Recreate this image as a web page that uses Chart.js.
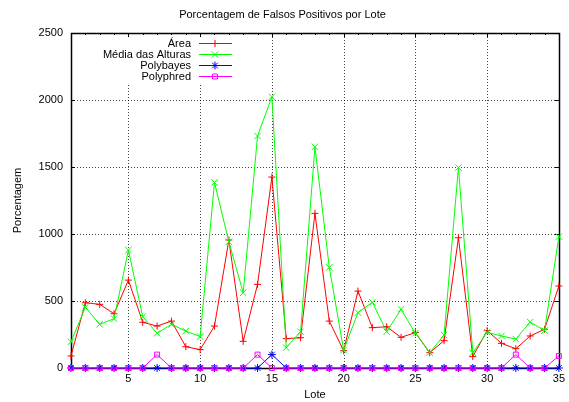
<!DOCTYPE html>
<html>
<head>
<meta charset="utf-8">
<script src="https://cdn.jsdelivr.net/npm/chart.js@4"></script>
<style>
  html, body { margin: 0; padding: 0; background: #fff; }
  #wrap { width: 569px; height: 402px; }
</style>
</head>
<body>
<div id="wrap"><canvas id="chart"></canvas></div>
<script>
const lotes = [1, 2, 3, 4, 5, 6, 7, 8, 9, 10, 11, 12, 13, 14, 15, 16, 17, 18, 19, 20,
    21, 22, 23, 24, 25, 26, 27, 28, 29, 30, 31, 32, 33, 34, 35];

const area = [90, 487, 475, 405, 656, 341, 313, 350, 159, 137, 313, 955, 199, 624, 1425,
    219, 226, 1154, 350, 129, 574, 301, 308, 229, 264, 114, 204, 972, 85, 279,
    184, 144, 239, 289, 612];

const mediaAlturas = [196, 453, 326, 368, 880, 383, 259, 326, 276, 234, 1385, 942, 562, 1731, 2024,
    152, 271, 1651, 751, 134, 413, 490, 271, 438, 259, 114, 246, 1495, 114, 266,
    239, 216, 343, 279, 980];

const polybayes = [0, 0, 0, 0, 0, 0, 0, 0, 0, 0, 0, 0, 0, 0, 100,
    0, 0, 0, 0, 0, 0, 0, 0, 0, 0, 0, 0, 0, 0, 0,
    0, 0, 0, 0, 0];

const polyphred = [0, 0, 0, 0, 0, 0, 100, 0, 0, 0, 0, 0, 0, 100, 0,
    0, 0, 0, 0, 0, 0, 0, 0, 0, 0, 0, 0, 0, 0, 0,
    0, 100, 0, 0, 90];

const xTicks = [5, 10, 15, 20, 25, 30, 35];
const yTicks = [0, 500, 1000, 1500, 2000, 2500];

const FONT = 'Liberation Sans, Arial, Helvetica, sans-serif';

const toPoints = (values) => lotes.map((l, i) => ({ x: l, y: values[i] }));

const series = (label, color, values, style, radius, order) => ({
    label: label,
    data: toPoints(values),
    borderColor: color,
    backgroundColor: color,
    borderWidth: 1,
    pointStyle: style,
    pointRadius: radius,
    pointHoverRadius: radius,
    pointBorderColor: color,
    pointBackgroundColor: style === 'rect' ? 'rgba(0,0,0,0)' : color,
    pointBorderWidth: 1,
    tension: 0,
    clip: false,
    order: order,
});

// dotted grid, frame, inward tics and the boxed key, drawn under the data lines
const gnuplotFrame = {
    id: 'gnuplotFrame',
    beforeDatasetsDraw(chart) {
        const ctx = chart.ctx;
        const a = chart.chartArea;
        const xs = chart.scales.x;
        const ys = chart.scales.y;

        ctx.save();

        // grid
        ctx.strokeStyle = 'rgba(0, 0, 0, 0.75)';
        ctx.lineWidth = 1;
        ctx.setLineDash([1, 2]);
        ctx.beginPath();
        xTicks.forEach((v) => {
            const px = Math.round(xs.getPixelForValue(v)) + 0.5;
            ctx.moveTo(px, a.bottom);
            ctx.lineTo(px, a.top);
        });
        yTicks.forEach((v) => {
            const py = Math.round(ys.getPixelForValue(v)) + 0.5;
            ctx.moveTo(a.left, py);
            ctx.lineTo(a.right, py);
        });
        ctx.stroke();
        ctx.setLineDash([]);

        // key background hides the grid behind it
        ctx.fillStyle = '#fff';
        ctx.fillRect(96, a.top + 1, 144, 49);

        ctx.strokeStyle = '#000';
        ctx.beginPath();
        for (let v = xs.min; v <= xs.max; v++) {
            const px = Math.round(xs.getPixelForValue(v)) + 0.5;
            const len = v % 5 === 0 ? 4 : 2;
            ctx.moveTo(px, a.bottom);
            ctx.lineTo(px, a.bottom - len);
            ctx.moveTo(px, a.top);
            ctx.lineTo(px, a.top + len);
        }
        yTicks.forEach((v) => {
            const py = Math.round(ys.getPixelForValue(v)) + 0.5;
            ctx.moveTo(a.left, py);
            ctx.lineTo(a.left + 4, py);
            ctx.moveTo(a.right, py);
            ctx.lineTo(a.right - 4, py);
        });
        ctx.stroke();

        ctx.lineWidth = 1.5;
        ctx.strokeRect(Math.round(a.left) + 0.5, Math.round(a.top) + 0.5,
            Math.round(a.right - a.left), Math.round(a.bottom - a.top));

        // key
        ctx.font = '11px ' + FONT;
        ctx.textAlign = 'right';
        ctx.textBaseline = 'middle';
        chart.data.datasets.forEach((ds, i) => {
            const y = a.top + 10.5 + i * 11;
            ctx.fillStyle = '#000';
            ctx.fillText(ds.label, 191, y);
            ctx.strokeStyle = ds.borderColor;
            ctx.lineWidth = 1;
            ctx.beginPath();
            ctx.moveTo(199, y);
            ctx.lineTo(232, y);
            ctx.stroke();
            if (Chart.helpers && Chart.helpers.drawPoint) {
                ctx.fillStyle = ds.pointBackgroundColor;
                Chart.helpers.drawPoint(ctx, {
                    pointStyle: ds.pointStyle,
                    radius: ds.pointRadius,
                    borderWidth: 1,
                    rotation: 0,
                }, 215, y);
            }
        });

        ctx.restore();
    },
};

const plainNumber = (value) => String(value);

new Chart(document.getElementById('chart'), {
    type: 'line',
    data: {
        datasets: [
            series('Área', '#ff0000', area, 'cross', 3.5, 4),
            series('Média das Alturas', '#00ff00', mediaAlturas, 'crossRot', 4.5, 3),
            series('Polybayes', '#0000ff', polybayes, 'star', 4, 2),
            series('Polyphred', '#ff00ff', polyphred, 'rect', 3.5, 1),
        ],
    },
    options: {
        responsive: true,
        maintainAspectRatio: false,
        animation: false,
        events: [],
        layout: {
            padding: { left: 0, right: 4, top: 0, bottom: 0 },
        },
        plugins: {
            legend: { display: false },
            tooltip: { enabled: false },
            title: {
                display: true,
                text: 'Porcentagem de Falsos Positivos por Lote',
                color: '#000',
                font: { family: FONT, size: 11, weight: 'normal', lineHeight: 1.2 },
                padding: { top: 8.5, bottom: 11.3 },
            },
        },
        scales: {
            x: {
                type: 'linear',
                min: 1,
                max: 35,
                afterBuildTicks: (scale) => {
                    scale.ticks = xTicks.map((v) => ({ value: v }));
                },
                afterFit: (scale) => {
                    scale.height = 34;
                },
                ticks: {
                    color: '#000',
                    padding: 4,
                    maxRotation: 0,
                    callback: plainNumber,
                    font: { family: FONT, size: 11 },
                },
                grid: { display: false, drawTicks: false },
                border: { display: false },
                title: {
                    display: true,
                    text: 'Lote',
                    color: '#000',
                    font: { family: FONT, size: 11 },
                    padding: { top: 0, bottom: 0 },
                },
            },
            y: {
                type: 'linear',
                min: 0,
                max: 2500,
                afterBuildTicks: (scale) => {
                    scale.ticks = yTicks.map((v) => ({ value: v }));
                },
                afterFit: (scale) => {
                    scale.width = 71;
                },
                ticks: {
                    color: '#000',
                    padding: 8,
                    callback: plainNumber,
                    font: { family: FONT, size: 11 },
                },
                grid: { display: false, drawTicks: false },
                border: { display: false },
                title: {
                    display: true,
                    text: 'Porcentagem',
                    color: '#000',
                    font: { family: FONT, size: 11 },
                    padding: { top: 11.5, bottom: 0 },
                },
            },
        },
    },
    plugins: [gnuplotFrame],
});
</script>
</body>
</html>
